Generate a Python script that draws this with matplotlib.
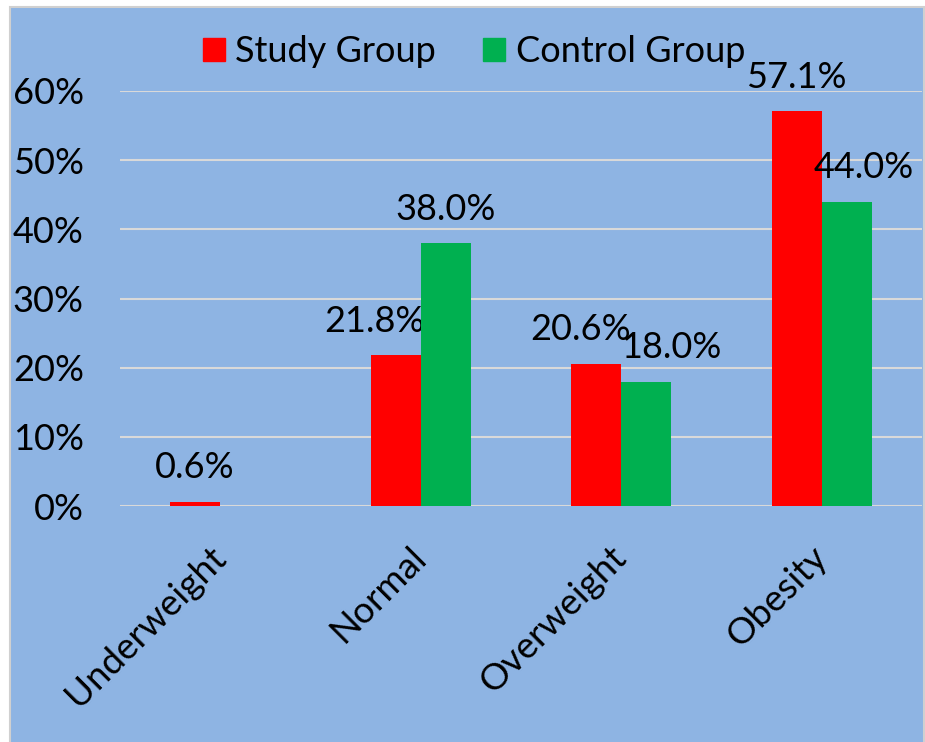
import numpy as np
import matplotlib.pyplot as plt
from matplotlib.patches import Rectangle, Patch

plt.rcParams['font.family'] = ['Lato', 'DejaVu Sans']

categories = ["Underweight", "Normal", "Overweight", "Obesity"]
study = [0.6, 21.8, 20.6, 57.1]
control = [None, 38.0, 18.0, 44.0]

# sideways nudges (points) for labels that would collide
study_nudge = [0, -15, -11, 0]
control_nudge = [0, 0, 18, 12]

red = "#FF0000"
green = "#00B050"
bg = "#8EB4E3"

fig = plt.figure(figsize=(9.25, 7.42), dpi=100)
fig.patch.set_facecolor("white")
fig.patches.append(Rectangle((10/925, -0.01), 914/925, 1.01 - 7/742, transform=fig.transFigure,
                             facecolor=bg, edgecolor="#D0D0D0", linewidth=1.5, zorder=-1))

ax = fig.add_axes([120/925, 236/742, 802/925, 415/742])
ax.set_facecolor("none")

x = np.arange(len(categories))
w = 0.25
for i in range(len(categories)):
    ax.bar(x[i] - w/2, study[i], w, color=red, zorder=3)
    ax.annotate(f"{study[i]:.1f}%", (x[i] - w/2, study[i]), xytext=(study_nudge[i], 24.5),
                textcoords="offset points", ha="center", va="center", fontsize=26)
    if control[i] is not None:
        ax.bar(x[i] + w/2, control[i], w, color=green, zorder=3)
        ax.annotate(f"{control[i]:.1f}%", (x[i] + w/2, control[i]), xytext=(control_nudge[i], 24.5),
                    textcoords="offset points", ha="center", va="center", fontsize=26)

ax.set_xlim(-0.5, 3.5)
ax.set_ylim(0, 60)
ax.set_yticks(np.arange(0, 61, 10))
ax.set_yticklabels([f"{v}%" for v in range(0, 61, 10)], fontsize=26)
ax.yaxis.grid(True, color="#D9D9D9", linewidth=1.5, zorder=0)
ax.set_axisbelow(True)
ax.tick_params(axis="y", length=0, pad=26)
ax.set_xticks([])
for s in ax.spines.values():
    s.set_visible(False)

for i, name in enumerate(categories):
    ax.annotate(name, (x[i], 0), xycoords=("data", "axes fraction"), xytext=(0, -33),
                textcoords="offset points", ha="right", va="center", rotation=45,
                rotation_mode="anchor", fontsize=26.5)

handles = [Patch(color=red, label="Study Group"), Patch(color=green, label="Control Group")]
fig.legend(handles=handles, loc="center", bbox_to_anchor=(474/925, 1 - 52/742), ncol=2,
           frameon=False, fontsize=26, handlelength=0.6, handleheight=0.6,
           handletextpad=0.3, columnspacing=1.3, borderpad=0)

fig.savefig("out.png", dpi=100, facecolor=fig.get_facecolor())
